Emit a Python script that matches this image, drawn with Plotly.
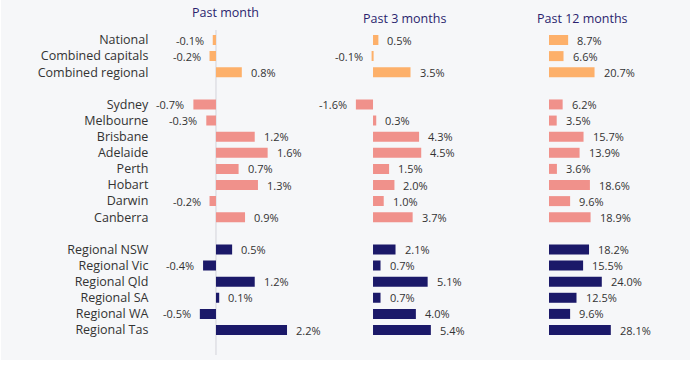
import plotly.graph_objects as go

categories = ["National", "Combined capitals", "Combined regional", " ",
              "Sydney", "Melbourne", "Brisbane", "Adelaide", "Perth", "Hobart", "Darwin", "Canberra", "  ",
              "Regional NSW", "Regional Vic", "Regional Qld", "Regional SA", "Regional WA", "Regional Tas"]
groups = ["agg", "agg", "agg", None,
          "cap", "cap", "cap", "cap", "cap", "cap", "cap", "cap", None,
          "reg", "reg", "reg", "reg", "reg", "reg"]
past_month = [-0.1, -0.2, 0.8, None, -0.7, -0.3, 1.2, 1.6, 0.7, 1.3, -0.2, 0.9, None,
              0.5, -0.4, 1.2, 0.1, -0.5, 2.2]
past_3_months = [0.5, -0.1, 3.5, None, -1.6, 0.3, 4.3, 4.5, 1.5, 2.0, 1.0, 3.7, None,
                 2.1, 0.7, 5.1, 0.7, 4.0, 5.4]
past_12_months = [8.7, 6.6, 20.7, None, 6.2, 3.5, 15.7, 13.9, 3.6, 18.6, 9.6, 18.9, None,
                  18.2, 15.5, 24.0, 12.5, 9.6, 28.1]
panel_titles = ["Past month", "Past 3 months", "Past 12 months"]

group_colors = {"agg": "#FDB06A", "cap": "#F0918B", "reg": "#1B1969"}

W, H = 690, 369
BG = "#F6F7F9"
FONT = "Open Sans"

def px(x):
    return x / W

# panel layouts: (x-range, pixel domain)
panels = [
    ([-2, 3.5], (151.4, 329.0)),
    ([-2, 7.0], (351.6, 448.0)),
    ([0, 40.0], (549.0, 637.0)),
]
series = [past_month, past_3_months, past_12_months]

fig = go.Figure()
annotations = []
for i, (vals, (rng, dom)) in enumerate(zip(series, panels)):
    xa = "x" if i == 0 else f"x{i+1}"
    cats = [c for c, v in zip(categories, vals) if v is not None]
    vs = [v for v in vals if v is not None]
    cols = [group_colors[g] for g, v in zip(groups, vals) if v is not None]
    fig.add_trace(go.Bar(
        x=vs, y=cats, orientation="h", marker=dict(color=cols, line=dict(width=0)),
        width=0.62, xaxis=xa, yaxis="y", hoverinfo="skip", showlegend=False,
    ))
    for c, v in zip(cats, vs):
        annotations.append(dict(
            x=v, y=c, xref=xa, yref="y", text=f"{v:.1f}%", showarrow=False,
            xanchor="left" if v >= 0 else "right", xshift=7 if v >= 0 else -7,
            font=dict(family=FONT, size=11, color="#333333"),
        ))

layout_axes = {}
for i, (rng, dom) in enumerate(panels):
    key = "xaxis" if i == 0 else f"xaxis{i+1}"
    layout_axes[key] = dict(
        range=rng, domain=[px(dom[0]), px(dom[1])], anchor="y",
        showgrid=False, zeroline=False, showticklabels=False, ticks="",
        showline=False, fixedrange=True,
    )

row_top, row_bot = 40.0, 330.0
step = (row_bot - row_top) / 18
y_top = row_top - step / 2
y_bot = row_bot + step / 2

# titles
title_pos = [(226, 13), (404, 18), (582, 18)]
for t, (tx, ty) in zip(panel_titles, title_pos):
    annotations.append(dict(
        x=px(tx), y=1 - ty / H, xref="paper", yref="paper", text=t, showarrow=False,
        xanchor="center", yanchor="middle",
        font=dict(family=FONT, size=12.5, color="#2B1F6E"),
    ))

fig.update_layout(
    width=W, height=H, margin=dict(l=0, r=0, t=0, b=0),
    paper_bgcolor="white", plot_bgcolor="rgba(0,0,0,0)",
    yaxis=dict(
        categoryorder="array", categoryarray=categories, type="category",
        range=[18.5, -0.5], domain=[1 - y_bot / H, 1 - y_top / H],
        showgrid=False, zeroline=False, showline=False, ticks="",
        ticklabelstandoff=2,
        tickfont=dict(family=FONT, size=12.5, color="#333333"),
        anchor="x", fixedrange=True,
    ),
    annotations=annotations,
    shapes=[
        dict(type="rect", xref="paper", yref="paper", x0=px(1), x1=1,
             y0=1 - 360 / H, y1=1, fillcolor=BG, line=dict(width=0), layer="below"),
        dict(type="line", xref="x", yref="paper", x0=0, x1=0,
             y0=1 - 355 / H, y1=1 - 30 / H, line=dict(color="#D3D3DA", width=1), layer="below"),
    ],
    **layout_axes,
)

fig.write_html("out.html", config={"displayModeBar": False},
               post_script="document.body.style.margin='0';document.body.style.overflow='hidden';")
